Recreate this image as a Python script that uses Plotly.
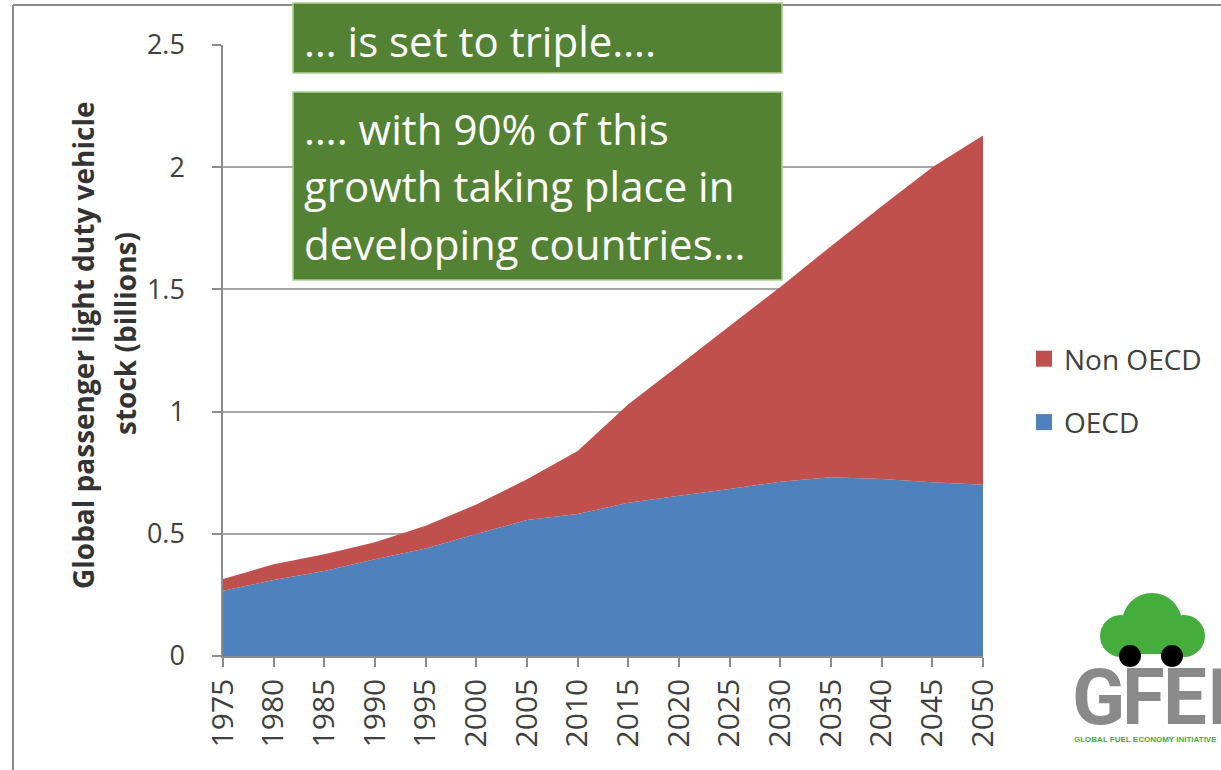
import plotly.graph_objects as go

# Global passenger light-duty vehicle stock, billions
years = [1975, 1980, 1985, 1990, 1995, 2000, 2005, 2010,
         2015, 2020, 2025, 2030, 2035, 2040, 2045, 2050]
oecd = [0.267, 0.311, 0.348, 0.396, 0.440, 0.499, 0.556, 0.581,
        0.627, 0.656, 0.683, 0.713, 0.731, 0.724, 0.711, 0.701]
non_oecd = [0.048, 0.064, 0.068, 0.069, 0.093, 0.121, 0.167, 0.258,
            0.403, 0.534, 0.667, 0.797, 0.946, 1.116, 1.289, 1.429]

y_ticks = [0, 0.5, 1, 1.5, 2, 2.5]
y_tick_text = ["0", "0.5", "1", "1.5", "2", "2.5"]

BLUE = "#4F81BD"
RED = "#C0504D"
GREEN = "#548235"
FONT = "Open Sans"

W, H = 1221, 770
L, R, T, B = 223, 238, 45, 114
PW, PH = W - L - R, H - T - B


def px(x):
    return (x - L) / PW


def py(y):
    return (H - B - y) / PH


fig = go.Figure()
fig.add_trace(go.Scatter(x=years, y=oecd, name="OECD", stackgroup="one",
                         mode="none", fillcolor=BLUE, showlegend=False))
fig.add_trace(go.Scatter(x=years, y=non_oecd, name="Non OECD", stackgroup="one",
                         mode="none", fillcolor=RED, showlegend=False))

# square legend keys
for name, col, grp in [("Non OECD", RED, "a"), ("OECD", BLUE, "b")]:
    fig.add_trace(go.Scatter(x=[None], y=[None], mode="markers", name=name,
                             legendgroup=grp,
                             marker=dict(symbol="square", size=21, color=col)))

shapes = []
annotations = []

# outer frame
shapes.append(dict(type="line", xref="paper", yref="paper",
                   x0=px(13), x1=px(13), y0=py(5), y1=py(H + 5),
                   line=dict(color="#8C8C8C", width=2)))
shapes.append(dict(type="line", xref="paper", yref="paper",
                   x0=px(13), x1=px(W + 5), y0=py(5), y1=py(5),
                   line=dict(color="#8C8C8C", width=2)))

# green callout boxes
for x0, y0, x1, y1 in [(293, 3, 782, 73), (293, 92, 782, 280)]:
    shapes.append(dict(type="rect", xref="paper", yref="paper",
                       x0=px(x0), x1=px(x1), y0=py(y1), y1=py(y0),
                       fillcolor=GREEN, line=dict(color="#A9D18E", width=1.5),
                       layer="above"))

callouts = [("… is set to triple….", 40),
            ("…. with 90% of this", 128),
            ("growth taking place in", 186),
            ("developing countries…", 243)]
for txt, yc in callouts:
    annotations.append(dict(text=txt, xref="paper", yref="paper",
                            x=px(302), y=py(yc), xanchor="left", yanchor="middle",
                            showarrow=False,
                            font=dict(family=FONT, size=42, color="white")))

# y-axis title, two lines
for txt, xc, yc in [("Global passenger light duty vehicle", 83, 346),
                    ("stock (billions)", 125, 333)]:
    annotations.append(dict(text=f"<b>{txt}</b>", xref="paper", yref="paper",
                            x=px(xc), y=py(yc), xanchor="center", yanchor="middle",
                            textangle=-90, showarrow=False,
                            font=dict(family=FONT, size=28, color="#333333")))

# GFEI logo
LOGO_GREEN = "#45AD3B"


def circle(cx, cy, r, color):
    return dict(type="circle", xref="paper", yref="paper",
                x0=px(cx - r), x1=px(cx + r), y0=py(cy + r), y1=py(cy - r),
                fillcolor=color, line=dict(width=0), layer="above")


shapes.append(circle(1152, 623, 30, LOGO_GREEN))
shapes.append(circle(1121, 636, 21, LOGO_GREEN))
shapes.append(circle(1184, 636, 21, LOGO_GREEN))
shapes.append(dict(type="rect", xref="paper", yref="paper",
                   x0=px(1112), x1=px(1194), y0=py(654), y1=py(628),
                   fillcolor=LOGO_GREEN, line=dict(width=0), layer="above"))
shapes.append(circle(1130, 656, 11, "black"))
shapes.append(circle(1172, 656, 11, "black"))

for letter, lx in [("G", 1071), ("F", 1121), ("E", 1162), ("I", 1206)]:
    annotations.append(dict(text=f"<b>{letter}</b>", xref="paper", yref="paper",
                            x=px(lx), y=py(697), xanchor="left", yanchor="middle",
                            showarrow=False, borderpad=0,
                            font=dict(family="Roboto", size=78, color="#8A8A8A")))
annotations.append(dict(text="<b>GLOBAL FUEL ECONOMY INITIATIVE</b>", xref="paper",
                        yref="paper", x=px(1073), y=py(739), xanchor="left",
                        yanchor="middle", showarrow=False, borderpad=0,
                        font=dict(family="Liberation Sans", size=8, color=LOGO_GREEN)))

fig.update_layout(
    width=W, height=H,
    margin=dict(l=L, r=R, t=T, b=B),
    paper_bgcolor="white", plot_bgcolor="white",
    shapes=shapes, annotations=annotations,
    showlegend=True,
    legend=dict(x=px(1024), y=py(334), xanchor="left", yanchor="top",
                font=dict(family=FONT, size=28, color="#404040"),
                tracegroupgap=24, itemwidth=30, bgcolor="rgba(0,0,0,0)"),
    xaxis=dict(range=[1975, 2050], tickmode="array", tickvals=years,
               ticktext=[str(y) for y in years], tickangle=-90,
               showgrid=False, showline=True, linecolor="#8C8C8C", linewidth=1.5,
               ticks="outside", ticklen=9, tickcolor="#8C8C8C", tickwidth=1.5,
               tickfont=dict(family=FONT, size=30, color="#404040"),
               zeroline=False),
    yaxis=dict(range=[0, 2.5], tickmode="array", tickvals=y_ticks,
               ticktext=y_tick_text, showgrid=True, gridcolor="#A6A6A6", gridwidth=1.5,
               showline=True, linecolor="#8C8C8C", linewidth=1.5,
               ticks="outside", ticklen=9, tickcolor="#8C8C8C", tickwidth=1.5,
               ticklabelstandoff=22,
               tickfont=dict(family=FONT, size=27, color="#404040"),
               zeroline=False),
)

fig.write_html("out.html")
